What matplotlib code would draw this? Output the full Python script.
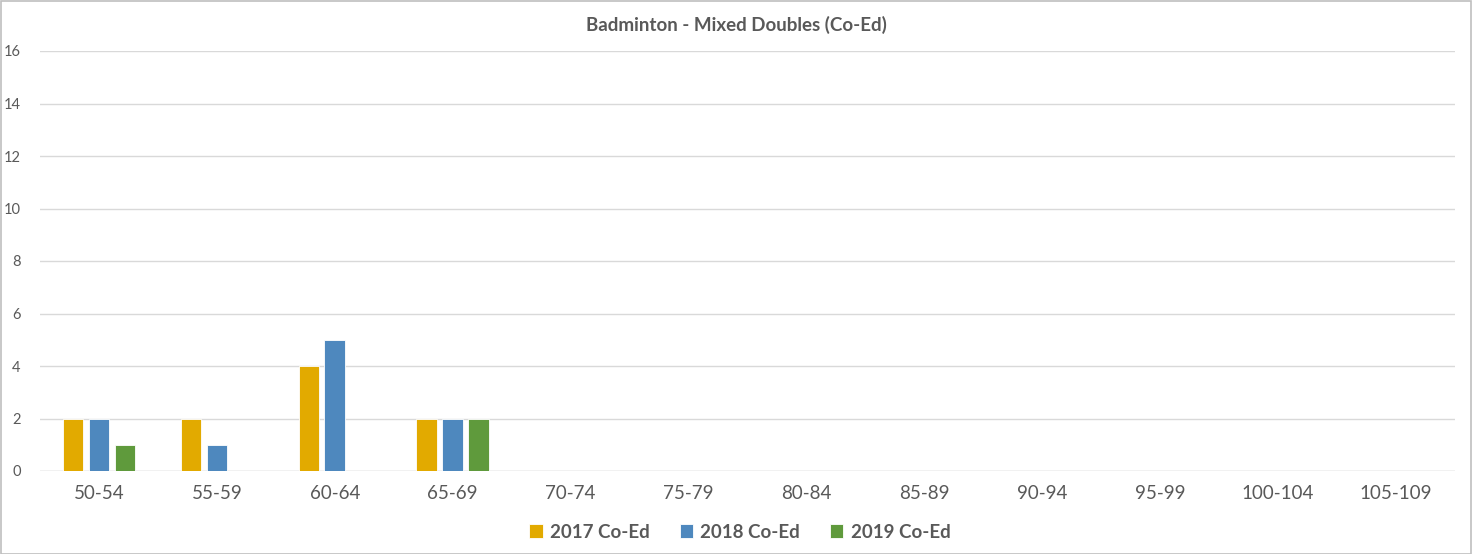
import numpy as np
import matplotlib.pyplot as plt
from matplotlib.patches import Rectangle

categories = ['50-54', '55-59', '60-64', '65-69', '70-74', '75-79', '80-84',
              '85-89', '90-94', '95-99', '100-104', '105-109']
coed_2017 = [2, 2, 4, 2, 0, 0, 0, 0, 0, 0, 0, 0]
coed_2018 = [2, 1, 5, 2, 0, 0, 0, 0, 0, 0, 0, 0]
coed_2019 = [1, 0, 0, 2, 0, 0, 0, 0, 0, 0, 0, 0]
series_labels = ['2017 Co-Ed', '2018 Co-Ed', '2019 Co-Ed']
colors = ['#E2AA00', '#4E88BE', '#5F9A3C']

plt.rcParams['font.family'] = ['Lato', 'DejaVu Sans']

fig = plt.figure(figsize=(14.72, 5.54), dpi=100)
ax = fig.add_axes([40 / 1472, 1 - 471 / 554, 1415 / 1472, 420 / 554])

x = np.arange(len(categories))
width = 0.175
step = 0.22
for i, (vals, lab, col) in enumerate(zip([coed_2017, coed_2018, coed_2019], series_labels, colors)):
    ax.bar(x + (i - 1) * step, vals, width, color=col, label=lab,
           edgecolor='white', linewidth=0.6, zorder=3)

ax.set_xlim(-0.5, len(categories) - 0.5)
ax.set_ylim(0, 16)
ax.set_yticks(range(0, 17, 2))
ax.set_xticks(x)
ax.set_xticklabels(categories, fontsize=13.5, color='#595959')
ax.tick_params(axis='y', labelsize=10.5, colors='#595959', length=0, pad=14)
ax.tick_params(axis='x', length=0, pad=10)
ax.grid(axis='y', color='#D9D9D9', linewidth=1, zorder=0)
for s in ax.spines.values():
    s.set_visible(False)
ax.axhline(0, color='#D9D9D9', linewidth=1, zorder=1)

fig.text(0.5, 1 - 25 / 554, 'Badminton - Mixed Doubles (Co-Ed)', ha='center', va='center',
         fontsize=13.5, fontweight='bold', color='#595959')

leg = fig.legend(loc='center', bbox_to_anchor=(740 / 1472, 1 - 532 / 554), ncol=3,
                 frameon=False, handlelength=0.7, handleheight=0.7, handletextpad=0.4,
                 columnspacing=1.6, prop={'size': 13.5, 'weight': 'bold'})
for t in leg.get_texts():
    t.set_color('#595959')

fig.patches.append(Rectangle((0.5 / 1472, 0.5 / 554), 1 - 1.5 / 1472, 1 - 1.5 / 554,
                             transform=fig.transFigure, fill=False,
                             edgecolor='#BFBFBF', linewidth=1.2))

fig.savefig('out.png', dpi=100)
